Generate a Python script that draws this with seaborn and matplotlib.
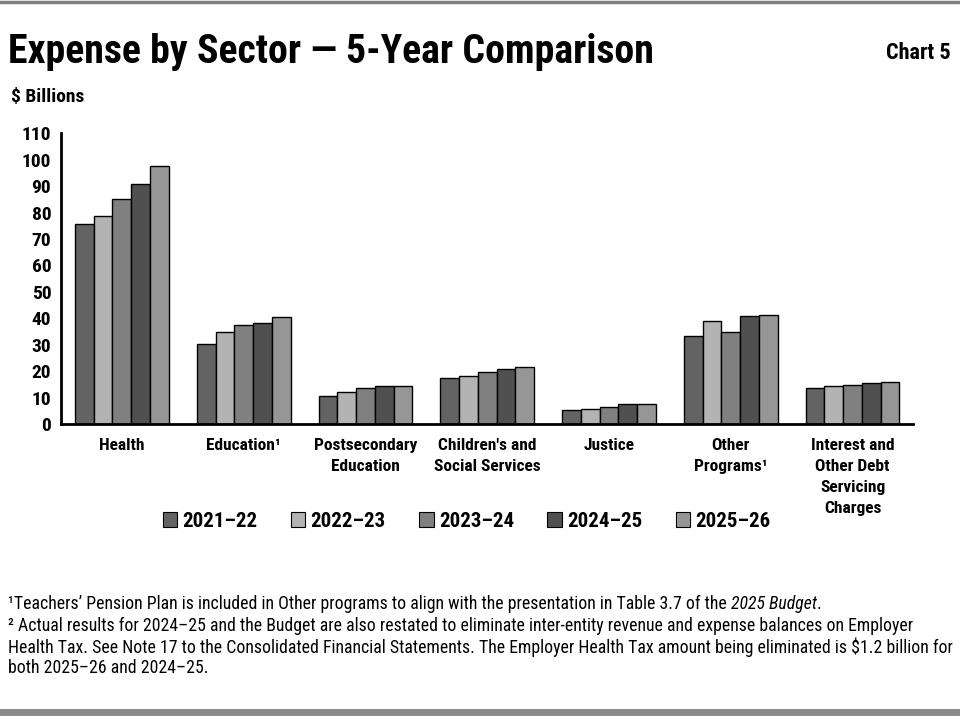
import matplotlib
matplotlib.use("Agg")
import matplotlib.pyplot as plt
from matplotlib.patches import Patch
import seaborn as sns
import pandas as pd

# data ($ billions)
sectors = ["Health", "Education¹", "Postsecondary\nEducation", "Children's and\nSocial Services",
           "Justice", "Other\nPrograms¹", "Interest and\nOther Debt\nServicing\nCharges"]
years = ["2021–22", "2022–23", "2023–24", "2024–25", "2025–26"]
health = [75.5, 78.6, 85.3, 90.9, 97.7]
education = [30.1, 34.7, 37.3, 38.2, 40.4]
postsec = [10.8, 12.0, 13.6, 14.3, 14.3]
children = [17.3, 18.0, 19.6, 20.7, 21.5]
justice = [5.2, 5.6, 6.3, 7.5, 7.5]
other = [33.2, 38.9, 34.7, 40.7, 41.1]
interest = [13.5, 14.3, 14.6, 15.4, 15.8]
colors = ["#636363", "#b3b3b3", "#808080", "#505050", "#969696"]

series = [health, education, postsec, children, justice, other, interest]
rows = []
for s, vals in zip(sectors, series):
    for y, v in zip(years, vals):
        rows.append({"sector": s, "year": y, "value": v})
df = pd.DataFrame(rows)

sns.set_style("white")
plt.rcParams["font.family"] = ["Roboto Condensed", "Fira Sans Condensed", "DejaVu Sans"]
plt.rcParams["font.stretch"] = "condensed"
plt.rcParams["text.color"] = "black"
plt.rcParams["xtick.color"] = "black"
plt.rcParams["ytick.color"] = "black"

fig = plt.figure(figsize=(9.6, 7.2), dpi=100)
ax = fig.add_axes([0.0635, 0.411, 0.888, 0.404])

sns.barplot(data=df, x="sector", y="value", hue="year", palette=colors, width=0.77, gap=0,
            edgecolor="black", linewidth=1, ax=ax, legend=False)

ax.set_ylim(0, 110)
ax.set_xlim(-0.5, 6.5)
ax.set_yticks(range(0, 111, 10))
ax.set_yticklabels([str(t) for t in range(0, 111, 10)], fontsize=14, fontweight="bold")
ax.set_xticks(range(7))
ax.set_xticklabels(sectors, fontsize=12.5, fontweight="bold", linespacing=1.5, va="top")
ax.set_xticks([i + 0.5 for i in range(-1, 7)], minor=True)
ax.tick_params(axis="x", which="major", length=0, pad=10)
ax.tick_params(axis="x", which="minor", direction="out", length=6, width=1.5, color="black")
ax.tick_params(axis="y", direction="out", length=5, width=1.5, color="black", pad=2)
ax.set_xlabel("")
ax.set_ylabel("")
for side in ["top", "right"]:
    ax.spines[side].set_visible(False)
for side in ["left", "bottom"]:
    ax.spines[side].set_color("black")
    ax.spines[side].set_linewidth(2)

# legend
handles = [Patch(facecolor=c, edgecolor="black", linewidth=0.8) for c in colors]
fig.legend(handles, years, loc="center", bbox_to_anchor=(0.486, 0.276), ncol=5, frameon=False,
           prop={"weight": "bold", "size": 15}, handlelength=0.7, handleheight=0.7,
           handletextpad=0.25, columnspacing=1.6)

# titles
fig.text(0.008, 0.928, "Expense by Sector — 5-Year Comparison", fontsize=28.7, fontweight="bold",
         va="center", ha="left")
fig.text(0.99, 0.926, "Chart 5", fontsize=16, fontweight="bold", va="center", ha="right")
fig.text(0.011, 0.865, "$ Billions", fontsize=14, fontweight="bold", va="center", ha="left")

# footnotes
fs = 12.8
t1 = fig.text(0.008, 0.161, "¹Teachers’ Pension Plan is included in Other programs to align with the presentation in Table 3.7 of the ",
              fontsize=fs, va="center", ha="left")
fig.canvas.draw()
rend = fig.canvas.get_renderer()
bb = t1.get_window_extent(rend)
t2 = fig.text(bb.x1 / fig.bbox.width, 0.161, "2025 Budget", fontsize=fs, style="italic", va="center", ha="left")
fig.canvas.draw()
bb2 = t2.get_window_extent(rend)
fig.text(bb2.x1 / fig.bbox.width, 0.161, ".", fontsize=fs, va="center", ha="left")
fig.text(0.008, 0.131, "² Actual results for 2024–25 and the Budget are also restated to eliminate inter-entity revenue and expense balances on Employer",
         fontsize=fs, va="center", ha="left")
fig.text(0.008, 0.101, "Health Tax. See Note 17 to the Consolidated Financial Statements. The Employer Health Tax amount being eliminated is $1.2 billion for",
         fontsize=fs, va="center", ha="left")
fig.text(0.008, 0.072, "both 2025–26 and 2024–25.", fontsize=fs, va="center", ha="left")

# frame lines
fig.add_artist(plt.Line2D([0, 1], [0.997, 0.997], color="#7f7f7f", linewidth=2.5, transform=fig.transFigure))
fig.add_artist(plt.Line2D([0, 1], [0.011, 0.011], color="#8a8a8a", linewidth=5, transform=fig.transFigure))

fig.savefig("out.png", dpi=100)
